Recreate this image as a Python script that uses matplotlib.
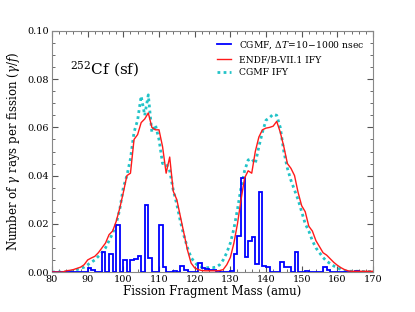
import numpy as np
import matplotlib
matplotlib.use("Agg")
import matplotlib.pyplot as plt
from matplotlib.ticker import MultipleLocator

plt.rcParams.update({"font.family": "DejaVu Serif", "mathtext.fontset": "dejavuserif"})

# ---- data ----
mass = np.arange(80, 171)

# ENDF/B-VII.1 independent fission yields weighted
endf_ify = [0, 0, 0, 0, 0.0005, 0.0007, 0.001, 0.0015, 0.002, 0.003,
            0.005, 0.0058, 0.0065, 0.008, 0.010, 0.012, 0.0155, 0.017, 0.021, 0.0265,
            0.033, 0.040, 0.041, 0.055, 0.057, 0.062, 0.0635, 0.066, 0.060, 0.059,
            0.059, 0.052, 0.041, 0.0477, 0.0335, 0.030, 0.023, 0.016, 0.009, 0.0037,
            0.0017, 0.001, 0.0006, 0.0005, 0.0005, 0.0005, 0.0005, 0.0006, 0.001, 0.003,
            0.006, 0.012, 0.020, 0.030, 0.039, 0.042, 0.041, 0.050, 0.056, 0.059,
            0.0597, 0.060, 0.0605, 0.0625, 0.058, 0.052, 0.045, 0.043, 0.040, 0.033,
            0.0275, 0.025, 0.019, 0.017, 0.013, 0.0105, 0.008, 0.007, 0.0055, 0.004,
            0.0028, 0.0018, 0.001, 0.0005, 0.0003, 0.0003, 0.0003, 0.0003, 0.0003, 0.0003,
            0.0003]

cgmf_ify = [0, 0, 0, 0, 0, 0, 0.0005, 0.001, 0.0015, 0.002,
            0.003, 0.004, 0.005, 0.0065, 0.008, 0.010, 0.013, 0.016, 0.020, 0.026,
            0.035, 0.040, 0.047, 0.058, 0.063, 0.073, 0.065, 0.0735, 0.058, 0.061,
            0.055, 0.045, 0.045, 0.042, 0.034, 0.028, 0.021, 0.015, 0.010, 0.006,
            0.004, 0.0025, 0.002, 0.0018, 0.0018, 0.0018, 0.002, 0.003, 0.005, 0.008,
            0.012, 0.018, 0.026, 0.035, 0.042, 0.0465, 0.047, 0.045, 0.052, 0.058,
            0.063, 0.064, 0.0655, 0.065, 0.060, 0.050, 0.043, 0.038, 0.034, 0.030,
            0.025, 0.020, 0.017, 0.013, 0.010, 0.008, 0.006, 0.0045, 0.0035, 0.0025,
            0.0018, 0.001, 0.0005, 0.0003, 0.0003, 0.0003, 0.0003, 0.0002, 0.0002, 0.0002,
            0.0002]

# CGMF isomeric gamma rays, dT = 10-1000 ns, one bin per mass unit (80..169)
hist_edges = np.arange(80, 171)
cgmf_dt = np.zeros(90)
dt_bins = {90: 0.0018, 91: 0.0008, 94: 0.0085, 96: 0.0075, 98: 0.0195,
           100: 0.0048, 102: 0.0050, 103: 0.0055, 104: 0.0068, 106: 0.028,
           107: 0.006, 110: 0.0195, 111: 0.0022, 114: 0.0004, 116: 0.0023,
           117: 0.001, 121: 0.0038, 122: 0.0015, 123: 0.0012, 124: 0.001,
           125: 0.0008, 126: 0.0004, 130: 0.0005, 131: 0.0075, 132: 0.015,
           133: 0.039, 134: 0.0063, 135: 0.013, 136: 0.0145, 137: 0.0035,
           138: 0.033, 139: 0.0025, 140: 0.0022, 144: 0.0042, 145: 0.0019,
           146: 0.0019, 148: 0.0085, 151: 0.0005, 156: 0.0022, 157: 0.001,
           165: 0.0004}
for a, v in dt_bins.items():
    cgmf_dt[a - 80] = v

# ---- plot ----
fig = plt.figure(figsize=(4.15, 3.12), dpi=100)
ax = fig.add_axes([52 / 415, 40 / 312, 321 / 415, 241 / 312])

ax.stairs(cgmf_dt, hist_edges, color="#0000ff", lw=1.3,
          label=r"CGMF, $\Delta T\!=\!10\!-\!1000$ nsec", zorder=3)
ax.plot(mass, endf_ify, color="#ff1a1a", lw=1.0, label="ENDF/B-VII.1 IFY", zorder=4)
ax.plot(mass, cgmf_ify, color="#22c3c8", lw=2.0, ls=(0, (1, 1.2)), label="CGMF IFY", zorder=2)

ax.text(0.055, 0.82, r"$^{252}$Cf (sf)", transform=ax.transAxes, fontsize=11)

ax.set_xlim(80, 170)
ax.set_ylim(0, 0.10)
ax.xaxis.set_major_locator(MultipleLocator(10))
ax.xaxis.set_minor_locator(MultipleLocator(2))
ax.yaxis.set_major_locator(MultipleLocator(0.02))
ax.yaxis.set_minor_locator(MultipleLocator(0.005))
ax.tick_params(which="both", direction="in", top=True, right=True, colors="#555555",
               labelcolor="black", labelsize=7, pad=2)
ax.tick_params(which="major", length=4)
ax.tick_params(which="minor", length=2)
for s in ax.spines.values():
    s.set_color("#888888")

ax.set_xlabel("Fission Fragment Mass (amu)", fontsize=8.5, labelpad=1)
ax.set_ylabel(r"Number of $\gamma$ rays per fission ($\gamma/f$)", fontsize=8.5, labelpad=4)

leg = ax.legend(loc="upper right", frameon=False, fontsize=6.6, handlelength=1.6,
                handletextpad=0.9, labelspacing=0.45, borderaxespad=0.5)

fig.savefig("out.png", dpi=100)
